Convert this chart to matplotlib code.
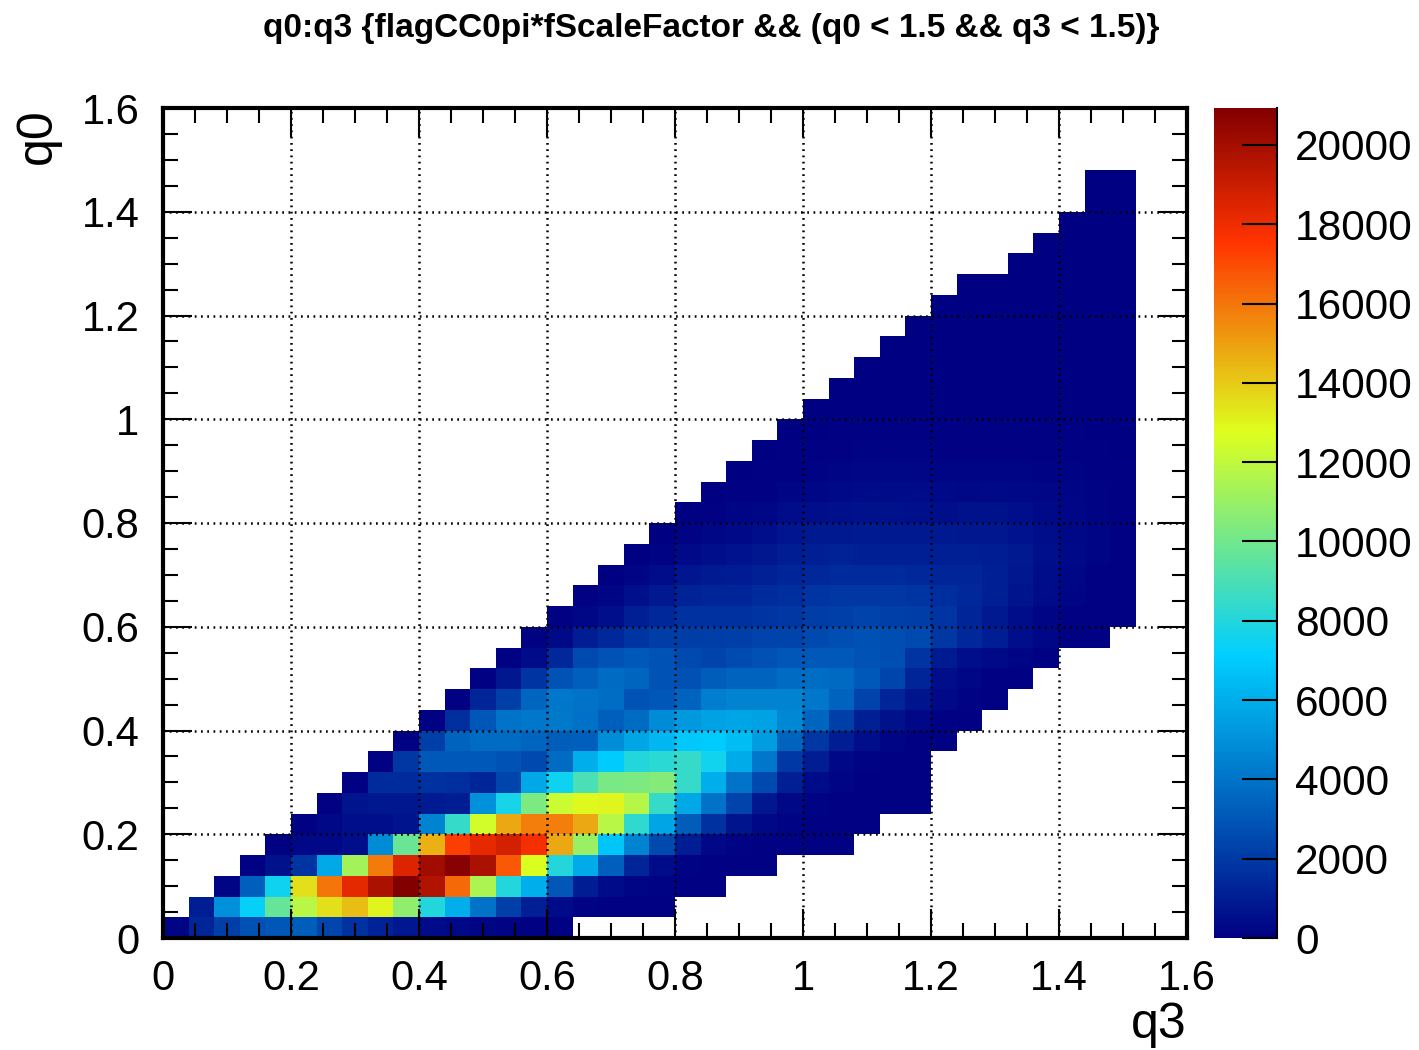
import matplotlib
matplotlib.use("Agg")
import matplotlib.pyplot as plt
from matplotlib.colors import LinearSegmentedColormap
from matplotlib.ticker import MultipleLocator, FixedLocator
import numpy as np

# histogram binning
bin_width = 0.04
n_q3_bins = 38
n_q0_bins = 37
z_max = 20930

# first filled q3 bin in every q0 row
row_starts = list(range(32)) + [33, 34, 35, 36, 36]

# bin contents, one list per q0 row
rows = [
    [200, 1300, 2200, 2800, 3000, 3200, 2400, 1700, 1200, 800, 400, 300, 200, 150, 100, 60],
    [1000, 5000, 7300, 9700, 11800, 13500, 14300, 13000, 10800, 8000, 6000, 4000, 2200, 1100, 400, 150, 100, 80, 60],
    [200, 3300, 7500, 13500, 16000, 18300, 19800, 20900, 19700, 16300, 11500, 8000, 6000, 3000, 1000, 400, 200, 150, 80, 50],
    [100, 600, 1800, 5800, 11300, 15900, 18500, 20100, 20800, 19800, 16700, 12700, 8000, 5900, 3300, 1300, 400, 150, 100, 70, 50],
    [80, 300, 300, 500, 4800, 9800, 14600, 17300, 18200, 18800, 17800, 14800, 11000, 6800, 4500, 2500, 1000, 300, 150, 100, 80, 60, 50],
    [60, 300, 500, 500, 700, 4500, 8500, 12500, 14800, 15800, 15800, 14800, 11800, 8300, 5700, 3200, 1700, 700, 300, 150, 100, 70, 50],
    [70, 700, 800, 800, 900, 1000, 5000, 7700, 10300, 12300, 12900, 13000, 11700, 8500, 5800, 4000, 2300, 800, 300, 150, 100, 80, 60, 50],
    [60, 1500, 1500, 1700, 1600, 1300, 2400, 5800, 7500, 9000, 10200, 10300, 10500, 8500, 6000, 4000, 2500, 1100, 400, 200, 120, 80, 60],
    [80, 1900, 3100, 3100, 3100, 2900, 2500, 3700, 6000, 7000, 8000, 8200, 8500, 7600, 5900, 4100, 2000, 1000, 300, 150, 100, 80],
    [80, 2200, 3400, 3700, 3700, 3500, 3200, 3300, 4900, 5700, 6300, 6900, 7000, 6500, 5400, 3400, 1900, 1000, 500, 200, 120, 80],
    [100, 1600, 3000, 4000, 4100, 4200, 3900, 3300, 3700, 4800, 5300, 5600, 5700, 5600, 4700, 3500, 2200, 1100, 600, 300, 120, 70],
    [100, 1300, 2200, 3500, 4100, 4000, 3800, 2900, 3000, 3400, 4300, 4500, 4500, 4500, 4100, 3400, 2300, 1300, 700, 350, 150, 80],
    [80, 800, 1800, 2900, 3300, 3700, 3500, 2900, 2800, 3200, 3400, 3400, 3700, 3800, 3600, 3100, 2400, 1300, 500, 250, 120, 70],
    [80, 400, 1400, 2500, 2900, 3100, 2900, 2500, 2300, 2600, 2800, 3000, 3100, 3100, 2900, 2700, 1800, 900, 500, 350, 200, 100],
    [60, 350, 1000, 1400, 1800, 2100, 2100, 2100, 2200, 2300, 2300, 2500, 2700, 2800, 2700, 2500, 1900, 1400, 1000, 500, 250, 100, 50],
    [60, 250, 500, 1100, 1400, 1700, 1700, 1700, 1800, 1900, 2100, 2200, 2300, 2200, 2100, 1800, 1300, 850, 450, 200, 120, 80, 50],
    [50, 200, 550, 850, 1200, 1300, 1300, 1500, 1600, 1800, 1900, 1900, 1900, 1800, 1600, 1400, 1100, 700, 400, 200, 100, 50],
    [40, 180, 450, 750, 900, 950, 1150, 1300, 1400, 1500, 1500, 1500, 1400, 1300, 1300, 1100, 800, 450, 250, 120, 60],
    [40, 150, 350, 500, 650, 800, 1000, 1100, 1200, 1100, 1100, 1100, 1100, 1100, 1000, 850, 550, 350, 200, 70],
    [30, 130, 250, 350, 500, 750, 850, 850, 900, 850, 850, 850, 800, 800, 650, 450, 300, 200, 100],
    [30, 100, 170, 280, 450, 500, 550, 600, 600, 550, 500, 600, 600, 500, 350, 250, 150, 70],
    [30, 70, 120, 200, 280, 350, 380, 400, 380, 330, 320, 330, 300, 230, 180, 130, 50],
    [30, 60, 90, 150, 200, 220, 250, 220, 200, 200, 200, 180, 150, 130, 110, 50],
    [25, 50, 80, 100, 130, 140, 130, 110, 110, 110, 100, 90, 80, 70, 40],
    [20, 35, 50, 70, 80, 80, 70, 60, 60, 60, 50, 50, 40, 25],
    [15, 25, 35, 40, 40, 40, 35, 35, 30, 30, 25, 25, 15],
    [15, 20, 25, 25, 25, 25, 25, 20, 20, 15, 15, 10],
    [10, 15, 15, 15, 15, 15, 12, 12, 10, 10, 8],
    [10, 10, 10, 10, 10, 10, 10, 8, 8, 6],
    [8, 8, 8, 8, 8, 8, 6, 6, 5],
    [6, 6, 6, 6, 6, 5, 5, 4],
    [5, 5, 5, 5, 4, 4, 3],
    [4, 4, 3, 3, 2],
    [3, 3, 2, 2],
    [2, 2, 2],
    [2, 1],
    [1, 1],
]

major_ticks = [0, 0.2, 0.4, 0.6, 0.8, 1, 1.2, 1.4, 1.6]
major_labels = ["0", "0.2", "0.4", "0.6", "0.8", "1", "1.2", "1.4", "1.6"]
cbar_ticks = [0, 2000, 4000, 6000, 8000, 10000, 12000, 14000, 16000, 18000, 20000]

# ROOT rainbow palette
stops = [0.0, 0.34, 0.61, 0.84, 1.0]
reds = [0.0, 0.0, 0.87, 1.0, 0.51]
greens = [0.0, 0.81, 1.0, 0.2, 0.0]
blues = [0.51, 1.0, 0.12, 0.0, 0.0]
root_cmap = LinearSegmentedColormap.from_list(
    "root_rainbow", [(s, (r, g, b)) for s, r, g, b in zip(stops, reds, greens, blues)], N=512)

plt.rcParams["font.family"] = ["Liberation Sans", "DejaVu Sans"]

W, H = 1419, 1050
fig = plt.figure(figsize=(W / 100, H / 100), dpi=100)
ax = fig.add_axes([163 / W, 1 - 938 / H, (1187 - 163) / W, (938 - 108) / H])

grid = np.full((n_q0_bins, n_q3_bins), np.nan)
for j, (start, row) in enumerate(zip(row_starts, rows)):
    grid[j, start:start + len(row)] = row

x_edges = np.arange(n_q3_bins + 1) * bin_width
y_edges = np.arange(n_q0_bins + 1) * bin_width
mesh = ax.pcolormesh(x_edges, y_edges, np.ma.masked_invalid(grid), cmap=root_cmap,
                     vmin=0, vmax=z_max, antialiased=False, linewidth=0)

ax.set_xlim(0, 1.6)
ax.set_ylim(0, 1.6)
ax.set_axisbelow(False)

for axis in (ax.xaxis, ax.yaxis):
    axis.set_major_locator(FixedLocator(major_ticks))
    axis.set_minor_locator(MultipleLocator(0.05))
ax.set_xticklabels(major_labels)
ax.set_yticklabels(major_labels)

ax.tick_params(which="major", direction="in", top=True, right=True, length=21, width=1.5,
               labelsize=30, color="black")
ax.tick_params(which="minor", direction="in", top=True, right=True, length=10.5, width=1.5)
ax.tick_params(axis="x", which="major", pad=15)
ax.tick_params(axis="y", which="major", pad=17)
ax.grid(True, which="major", color="black", linestyle=(0, (0.7, 1.8)), linewidth=1.8)

for spine in ax.spines.values():
    spine.set_linewidth(3)

fig.text(711 / W, 1 - 28 / H, "q0:q3 {flagCC0pi*fScaleFactor && (q0 < 1.5 && q3 < 1.5)}",
         ha="center", va="center", fontsize=24, fontweight="bold")
fig.text(1187 / W, 1 - 1025 / H, "q3", ha="right", va="center", fontsize=36)
fig.text(38 / W, 1 - 108 / H, "q0", ha="center", va="top", rotation=90, fontsize=36)

# colour bar
cax = fig.add_axes([1214 / W, 1 - 938 / H, (1277 - 1214) / W, (938 - 108) / H])
cbar = fig.colorbar(mesh, cax=cax, ticks=cbar_ticks)
cbar.outline.set_visible(False)
cax.axvline(1, color="black", linewidth=1.5, clip_on=False)
cax.minorticks_off()
cax.tick_params(direction="in", length=25, width=1.5, labelsize=30.5, pad=13, right=True)

fig.savefig("out.png", dpi=100)
